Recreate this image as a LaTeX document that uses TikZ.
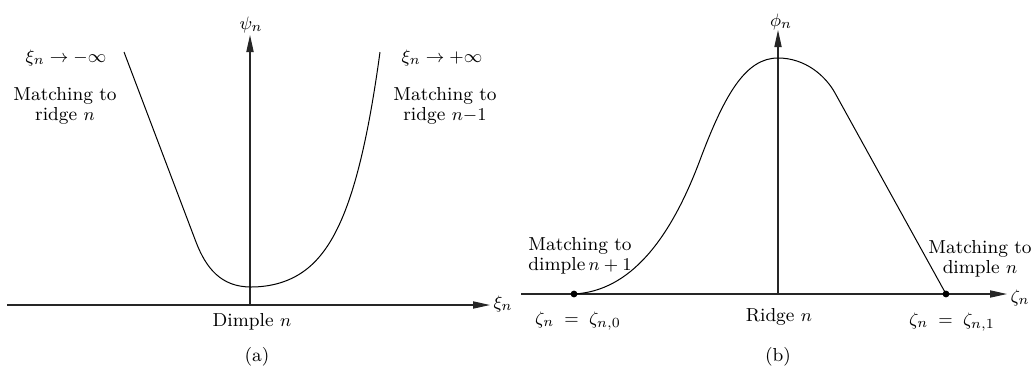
\documentclass[tikz,border=0pt]{standalone}
\usetikzlibrary{arrows.meta}
\begin{document}
\begin{tikzpicture}[x=0.5pt,y=-0.5pt,
  axis/.style={line width=0.55pt, draw=black!85, -{Triangle[length=8.5pt,width=3.6pt]}},
  curve/.style={line width=0.5pt, black},
  lbl/.style={inner sep=0pt, font=\fontsize{9.4pt}{9.8pt}\selectfont, align=center},
  dotmark/.style={circle, fill=black, inner sep=0pt, minimum size=3.4pt}]
\useasboundingbox (0,0) rectangle (1033,370);

% ---------- panel (a) ----------
\coordinate (aL) at (7,305);
\coordinate (aR) at (490,305);
\coordinate (aB) at (250,305);
\coordinate (aT) at (250,35);
\draw[axis] (aL) -- (aR);
\draw[axis] (aB) -- (aT);
\node[lbl] (xiax) at (503,304) {$\xi_n$};
\node[lbl] (psiax) at (251,25) {$\psi_n$};

\coordinate (aTop) at (124,52);
\coordinate (aBend) at (196,242);
\coordinate (aMin) at (251,287);
\draw[curve] (aTop) -- (aBend) .. controls (206,268) and (221,287) .. (aMin);
\draw[curve] plot[domain=0:129, samples=80, smooth]
  ({251+\x}, {287-235*((exp(0.03*\x)+exp(-0.03*\x))/2-1)/22.98});

\node[lbl] (lminf) at (66,58) {$\xi_n \to -\infty$};
\node[lbl] (lmatch) at (65,106) {Matching to\\ ridge $n$};
\node[lbl] (rpinf) at (442,58) {$\xi_n \to +\infty$};
\node[lbl] (rmatch) at (445,106) {Matching to\\ ridge $n{-}1$};
\node[lbl] (dimple) at (252,322) {Dimple $n$};
\node[lbl] (capa) at (257,357) {(a)};

% ---------- panel (b) ----------
\coordinate (bL) at (521,294);
\coordinate (bR) at (1007,294);
\coordinate (bB) at (778,294);
\coordinate (bT) at (778,30);
\draw[axis] (bL) -- (bR);
\draw[axis] (bB) -- (bT);
\node[lbl] (zetaax) at (1020,298) {$\zeta_n$};
\node[lbl] (phiax) at (781,22) {$\phi_n$};

\node[dotmark] (d0) at (574,294) {};
\node[dotmark] (d1) at (946,294) {};

\coordinate (bInf) at (700,160);
\coordinate (bMax) at (778,58);
\coordinate (bKnee) at (835,93);
\draw[curve] (d0.center) .. controls (630,291) and (670,240) .. (bInf)
  .. controls (725,93.3) and (746,58) .. (bMax)
  .. controls (805,58) and (825.3,75.5) .. (bKnee) -- (d1.center);

\node[lbl] (bmatchL) at (580,256) {Matching to\\ dimple\,$n+1$};
\node[lbl] (bmatchR) at (980,259) {Matching to\\ dimple $n$};
\node[lbl] (z0) at (578,321) {$\zeta_n\;=\;\zeta_{n,0}$};
\node[lbl] (ridge) at (779,317) {Ridge $n$};
\node[lbl] (z1) at (952,322) {$\zeta_n\;=\;\zeta_{n,1}$};
\node[lbl] (capb) at (778,357) {(b)};
\end{tikzpicture}
\end{document}
